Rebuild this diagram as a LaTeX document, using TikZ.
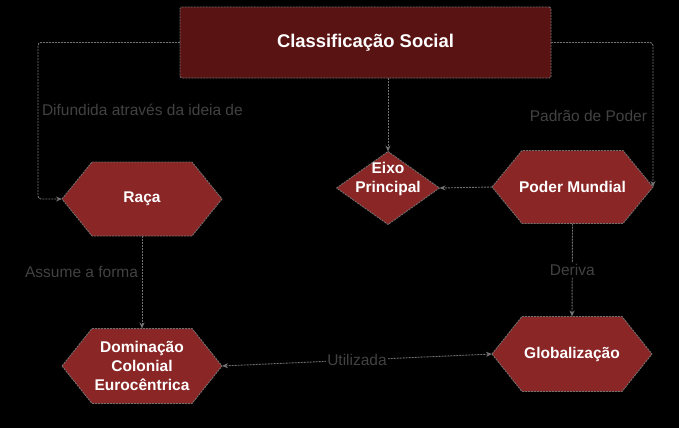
\documentclass[tikz,border=0pt]{standalone}
\usepackage{fontspec}
\setmainfont{Liberation Sans}
\usetikzlibrary{arrows.meta,backgrounds}
\definecolor{titlefill}{HTML}{5A1313}
\definecolor{hexfill}{HTML}{8B2626}
\definecolor{edgegray}{HTML}{707070}
\definecolor{linegray}{HTML}{727272}
\definecolor{lblgray}{HTML}{424242}
\tikzset{
  every node/.style={inner sep=0pt, outer sep=0pt},
  titlebox/.style={rectangle, fill=titlefill, draw=edgegray, dash pattern=on 2pt off 1pt,
    line width=0.9pt, minimum width=371pt, minimum height=71pt, rounded corners=1.5pt,
    text=white, font=\bfseries\fontsize{18.4}{22}\selectfont},
  hexnode/.style={rectangle, minimum width=160pt, minimum height=74pt, text=white,
    font=\bfseries\fontsize{15.5}{19}\selectfont, align=center},
  shapeborder/.style={fill=hexfill, draw=edgegray, dash pattern=on 2pt off 1pt, line width=0.9pt},
  nodetext/.style={text=white, font=\bfseries\fontsize{15.5}{19}\selectfont, align=center},
  conn/.style={draw=linegray, line width=0.9pt, dash pattern=on 2pt off 1pt,
    rounded corners=3pt, -{Stealth[length=6pt,width=5pt]}},
  lbl/.style={text=lblgray, font=\fontsize{15.5}{18}\selectfont},
  onlbl/.style={lbl, fill=black, inner sep=1.5pt}
}
\newcommand\hexpath[1]{%
  \path[shapeborder] (#1.west) -- ([xshift=30pt]#1.north west) -- ([xshift=-30pt]#1.north east)
    -- (#1.east) -- ([xshift=-30pt]#1.south east) -- ([xshift=30pt]#1.south west) -- cycle;}
\begin{document}
\begin{tikzpicture}[x=1pt,y=-1pt]
\useasboundingbox (0,0) rectangle (679,428);
% nodes
\node[titlebox] (title) at (365.5,42.5) {Classificação Social};
\node[hexnode] (raca) at (142,199) {Raça};
\node[hexnode, minimum height=75pt] (dom) at (142,366) {Dominação\\Colonial\\Eurocêntrica};
\node[hexnode, minimum width=161pt, minimum height=73pt] (poder) at (572.5,187) {Poder Mundial};
\node[hexnode, minimum height=75pt] (glob) at (572,354) {Globalização};
\node[rectangle, minimum width=103pt, minimum height=73pt] (eixo) at (388,188) {};
\node[nodetext] (eixotxt) at (388,179) {Eixo\\Principal};
% labels
\node[lbl, anchor=west] (l1) at (42,110) {Difundida através da ideia de};
\node[lbl, anchor=east] (l2) at (647,116) {Padrão de Poder};
\node[lbl, anchor=east] (l3) at (138,272) {Assume a forma};
% connectors
\draw[conn] (title.west) -| ([xshift=-24pt]raca.west) -- (raca.west);
\draw[conn] (title.east) -| (poder.east);
\draw[conn] (eixo.north |- title.south) -- (eixo.north);
\draw[conn] (poder.west) -- (eixo.east);
\draw[conn] (raca.south) -- (dom.north);
\draw[conn] (poder.south) -- node[onlbl] (l4) {Deriva} (glob.north);
\draw[conn, {Stealth[length=6pt,width=5pt]}-{Stealth[length=6pt,width=5pt]}] (dom.east) -- node[onlbl] (l5) {Utilizada} (glob.west);
% shapes in the background
\begin{pgfonlayer}{background}
\fill[black] (0,0) rectangle (679,428);
\hexpath{raca}
\hexpath{dom}
\hexpath{poder}
\hexpath{glob}
\path[shapeborder] (eixo.west) -- (eixo.north) -- (eixo.east) -- (eixo.south) -- cycle;
\end{pgfonlayer}
\end{tikzpicture}
\end{document}
